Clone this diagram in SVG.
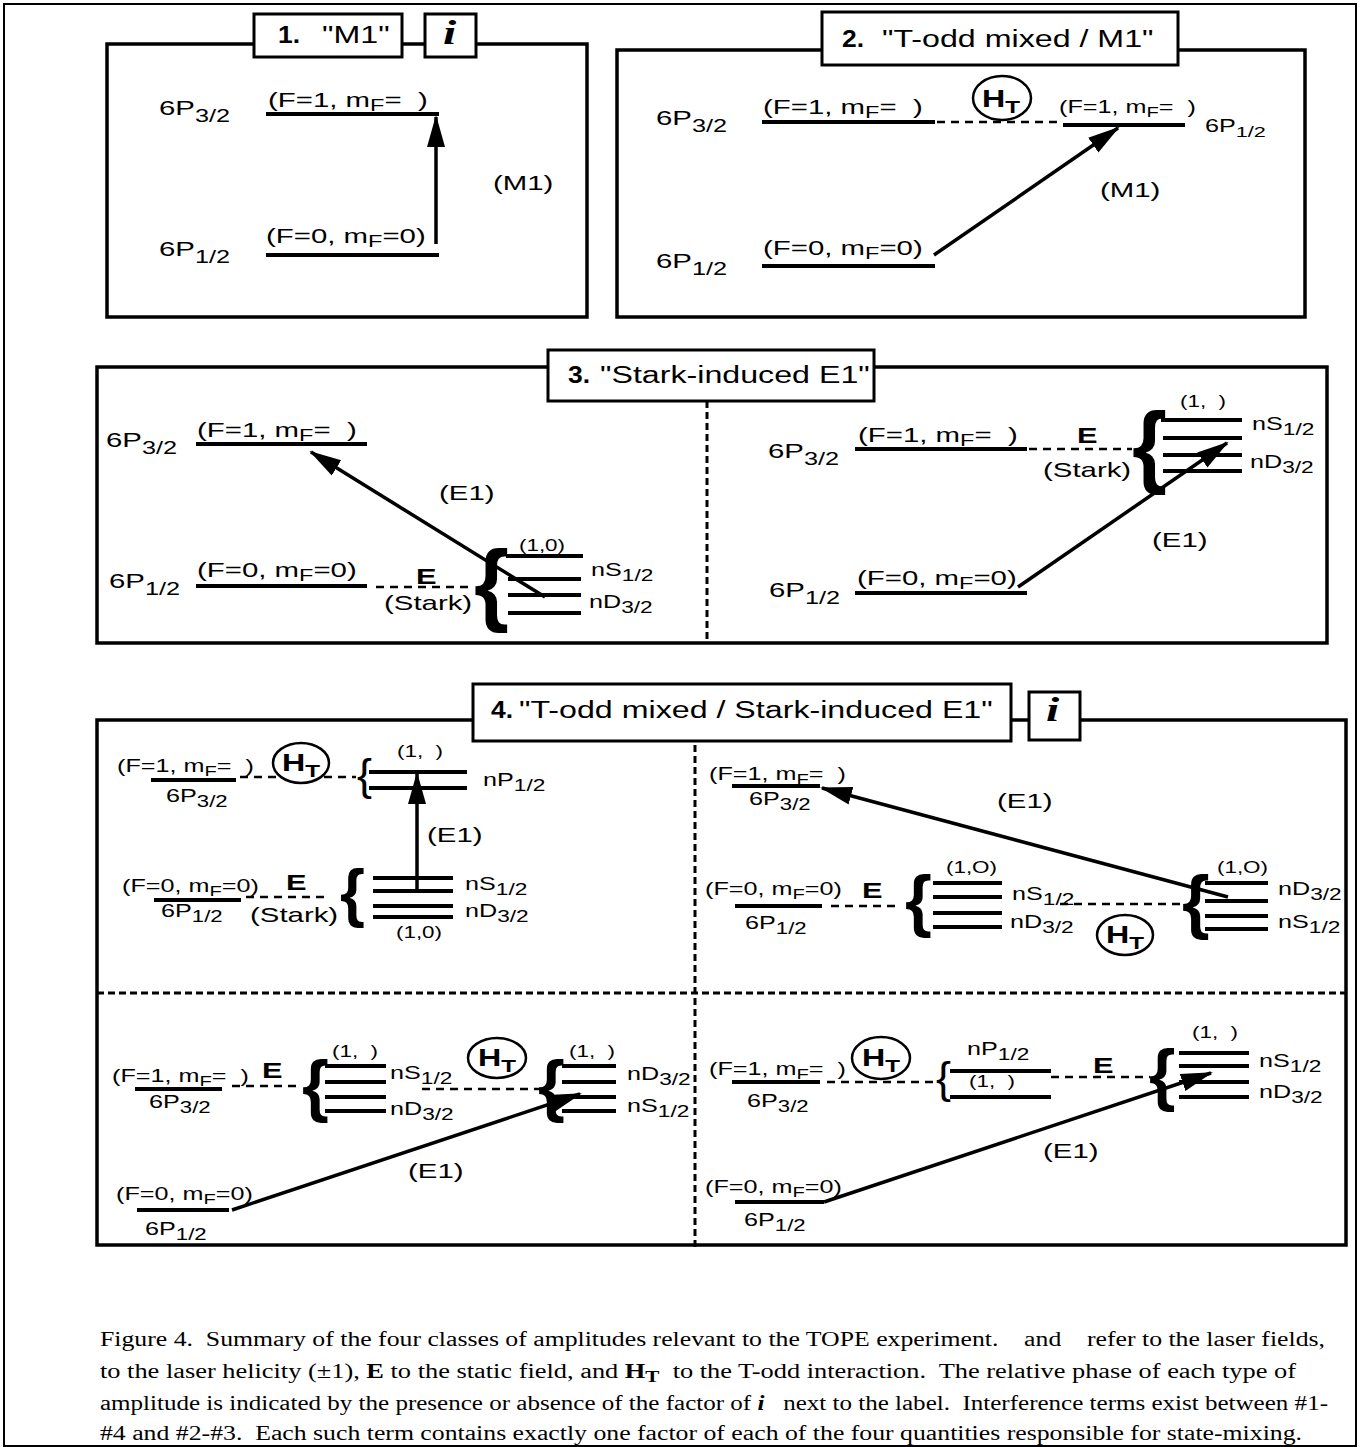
<svg xmlns="http://www.w3.org/2000/svg" width="1361" height="1447" viewBox="0 0 1361 1447">
<style>
.t{font-family:"Liberation Sans",Arial,Helvetica,sans-serif;fill:#000}
.L{font-size:21px}
.M{font-size:18px}
.S{font-size:16px}
.T{font-size:23px}
.bd{font-weight:bold}
.E{font-size:22px;font-weight:bold}
.H{font-size:23px;font-weight:bold}
.ii{font-family:"Liberation Serif","Times New Roman",serif;font-style:italic;font-weight:bold;font-size:34px}
.br{font-family:"Liberation Sans",Arial,sans-serif;font-weight:bold}
.brn{font-family:"Liberation Sans",Arial,sans-serif}
.lv{stroke:#000;stroke-width:4;fill:none}
.dl{stroke:#000;stroke-width:2.5;stroke-dasharray:8 6;fill:none}
.dv{stroke:#000;stroke-width:3;stroke-dasharray:7 4;fill:none}
.box{fill:none;stroke:#000;stroke-width:3.5}
.tb{fill:#fff;stroke:#000;stroke-width:3}
.ht{fill:#fff;stroke:#000;stroke-width:2.5}
.ar{stroke:#000;stroke-width:3.5;fill:none;marker-end:url(#ah)}
.cap{font-family:"Liberation Serif","Times New Roman",serif;font-size:20px;fill:#000}
</style>
<defs>
<marker id="ah" markerUnits="userSpaceOnUse" markerWidth="34" markerHeight="24" viewBox="0 -12 34 24" refX="30" refY="0" orient="auto"><path d="M0,-9 L32,0 L0,9 Z" fill="#000"/></marker>
</defs>
<rect x="4" y="4" width="1352" height="1442" fill="#fff" stroke="#000" stroke-width="2"/>

<!-- Section 1 -->
<g id="s1">
<rect class="box" x="107" y="44" width="480" height="273"/>
<rect class="tb" x="254" y="14" width="148" height="43"/>
<text class="t T bd" transform="translate(278,43) scale(1.15,1)">1.</text>
<text class="t T" transform="translate(322,43) scale(1.4,1)">"M1"</text>
<rect class="tb" x="425" y="14" width="51" height="43"/>
<text class="ii" transform="translate(443,44) scale(1.4,1)">i</text>
<line class="lv" x1="266" y1="114" x2="439" y2="114"/>
<line class="lv" x1="266" y1="255" x2="439" y2="255"/>
<text class="t L" transform="translate(159,115) scale(1.4,1)">6P<tspan font-size="86%" dy="7">3/2</tspan></text>
<text class="t L" transform="translate(268,107) scale(1.4,1)">(F=1, m<tspan font-size="80%" dy="4">F</tspan><tspan dy="-4">=&#160;&#160;)</tspan></text>
<text class="t L" transform="translate(266,243) scale(1.4,1)">(F=0, m<tspan font-size="80%" dy="4">F</tspan><tspan dy="-4">=0)</tspan></text>
<text class="t L" transform="translate(159,256) scale(1.4,1)">6P<tspan font-size="86%" dy="7">1/2</tspan></text>
<text class="t L" transform="translate(493,190) scale(1.4,1)">(M1)</text>
</g>

<!-- Section 2 -->
<g id="s2">
<rect class="box" x="617" y="50" width="688" height="267"/>
<rect class="tb" x="822" y="12" width="356" height="53"/>
<text class="t T bd" transform="translate(842,47) scale(1.15,1)">2.</text>
<text class="t T" transform="translate(882,47) scale(1.4,1)">"T-odd mixed / M1"</text>
<line class="lv" x1="762" y1="122" x2="935" y2="122"/>
<line class="lv" x1="1063" y1="125" x2="1185" y2="125"/>
<line class="lv" x1="762" y1="266" x2="935" y2="266"/>
<text class="t L" transform="translate(656,125) scale(1.4,1)">6P<tspan font-size="86%" dy="7">3/2</tspan></text>
<text class="t L" transform="translate(763,114) scale(1.4,1)">(F=1, m<tspan font-size="80%" dy="4">F</tspan><tspan dy="-4">=&#160;&#160;)</tspan></text>
<text class="t M" transform="translate(1059,113) scale(1.4,1)">(F=1, m<tspan font-size="80%" dy="4">F</tspan><tspan dy="-4">=&#160;&#160;)</tspan></text>
<text class="t M" transform="translate(1205,132) scale(1.4,1)">6P<tspan font-size="86%" dy="5">1/2</tspan></text>
<text class="t L" transform="translate(1100,197) scale(1.4,1)">(M1)</text>
<text class="t L" transform="translate(763,255) scale(1.4,1)">(F=0, m<tspan font-size="80%" dy="4">F</tspan><tspan dy="-4">=0)</tspan></text>
<text class="t L" transform="translate(656,268) scale(1.4,1)">6P<tspan font-size="86%" dy="7">1/2</tspan></text>
</g>

<!-- Section 3 -->
<g id="s3">
<rect class="box" x="97" y="367" width="1230" height="276"/>
<line class="dv" x1="707" y1="401" x2="707" y2="643"/>
<rect class="tb" x="548" y="350" width="326" height="51"/>
<text class="t T bd" transform="translate(568,383) scale(1.15,1)">3.</text>
<text class="t T" transform="translate(600,383) scale(1.4,1)">"Stark-induced E1"</text>
<!-- left -->
<line class="lv" x1="196" y1="444" x2="367" y2="444"/>
<line class="lv" x1="196" y1="586" x2="367" y2="586"/>
<text class="t L" transform="translate(106,447) scale(1.4,1)">6P<tspan font-size="86%" dy="7">3/2</tspan></text>
<text class="t L" transform="translate(197,437) scale(1.4,1)">(F=1, m<tspan font-size="80%" dy="4">F</tspan><tspan dy="-4">=&#160;&#160;)</tspan></text>
<text class="t L" transform="translate(439,500) scale(1.4,1)">(E1)</text>
<text class="t L" transform="translate(109,588) scale(1.4,1)">6P<tspan font-size="86%" dy="7">1/2</tspan></text>
<text class="t L" transform="translate(197,577) scale(1.4,1)">(F=0, m<tspan font-size="80%" dy="4">F</tspan><tspan dy="-4">=0)</tspan></text>
<text class="t E" transform="translate(416,584) scale(1.4,1)">E</text>
<text class="t L" transform="translate(384,610) scale(1.4,1)">(Stark)</text>
<text class="br" font-size="90" x="474" y="614">{</text>
<line class="lv" x1="506" y1="556" x2="583" y2="556"/>
<line class="lv" x1="508" y1="579" x2="581" y2="579"/>
<line class="lv" x1="508" y1="595" x2="581" y2="595"/>
<line class="lv" x1="508" y1="613" x2="581" y2="613"/>
<text class="t S" transform="translate(519,551) scale(1.4,1)">(1,0)</text>
<text class="t M" transform="translate(591,576) scale(1.4,1)">nS<tspan font-size="90%" dy="5">1/2</tspan></text>
<text class="t M" transform="translate(589,608) scale(1.4,1)">nD<tspan font-size="90%" dy="5">3/2</tspan></text>
<!-- right -->
<line class="lv" x1="855" y1="449" x2="1027" y2="449"/>
<line class="lv" x1="855" y1="593" x2="1027" y2="593"/>
<text class="t L" transform="translate(768,458) scale(1.4,1)">6P<tspan font-size="86%" dy="7">3/2</tspan></text>
<text class="t L" transform="translate(858,442) scale(1.4,1)">(F=1, m<tspan font-size="80%" dy="4">F</tspan><tspan dy="-4">=&#160;&#160;)</tspan></text>
<text class="t E" transform="translate(1077,443) scale(1.4,1)">E</text>
<text class="t L" transform="translate(1043,477) scale(1.4,1)">(Stark)</text>
<text class="br" font-size="90" x="1132" y="476">{</text>
<line class="lv" x1="1161" y1="420" x2="1242" y2="420"/>
<line class="lv" x1="1163" y1="438" x2="1242" y2="438"/>
<line class="lv" x1="1163" y1="455" x2="1242" y2="455"/>
<line class="lv" x1="1163" y1="471" x2="1242" y2="471"/>
<text class="t S" transform="translate(1180,407) scale(1.4,1)">(1,&#160;&#160;)</text>
<text class="t M" transform="translate(1252,430) scale(1.4,1)">nS<tspan font-size="90%" dy="5">1/2</tspan></text>
<text class="t M" transform="translate(1250,468) scale(1.4,1)">nD<tspan font-size="90%" dy="5">3/2</tspan></text>
<text class="t L" transform="translate(1152,547) scale(1.4,1)">(E1)</text>
<text class="t L" transform="translate(857,585) scale(1.4,1)">(F=0, m<tspan font-size="80%" dy="4">F</tspan><tspan dy="-4">=0)</tspan></text>
<text class="t L" transform="translate(769,597) scale(1.4,1)">6P<tspan font-size="86%" dy="7">1/2</tspan></text>
</g>

<!-- Section 4 -->
<g id="s4">
<rect class="box" x="97" y="720" width="1249" height="525"/>
<line class="dv" x1="695" y1="745" x2="695" y2="1250"/>
<line class="dv" x1="97" y1="993" x2="1346" y2="993" stroke-dasharray="10 7"/>
<rect class="tb" x="473" y="684" width="538" height="57"/>
<text class="t T bd" transform="translate(491,718) scale(1.15,1)">4.</text>
<text class="t T" transform="translate(519,718) scale(1.4,1)">"T-odd mixed / Stark-induced E1"</text>
<rect class="tb" x="1029" y="692" width="51" height="48"/>
<text class="ii" transform="translate(1046,721) scale(1.4,1)">i</text>
</g>

<!-- Section 4, top-left -->
<g id="s4-tl">
<line class="lv" x1="151" y1="780" x2="236" y2="780"/>
<text class="t M" transform="translate(117,772) scale(1.4,1)">(F=1, m<tspan font-size="80%" dy="4">F</tspan><tspan dy="-4">=&#160;&#160;)</tspan></text>
<text class="t M" transform="translate(166,802) scale(1.4,1)">6P<tspan font-size="88%" dy="5">3/2</tspan></text>
<text class="brn" font-size="45" x="357" y="790">{</text>
<line class="lv" x1="369" y1="772" x2="467" y2="772"/>
<line class="lv" x1="369" y1="788" x2="467" y2="788"/>
<text class="t S" transform="translate(397,757) scale(1.4,1)">(1,&#160;&#160;)</text>
<text class="t M" transform="translate(483,786) scale(1.4,1)">nP<tspan font-size="90%" dy="5">1/2</tspan></text>
<text class="t L" transform="translate(427,842) scale(1.4,1)">(E1)</text>
<line class="lv" x1="154" y1="900" x2="241" y2="900"/>
<text class="t M" transform="translate(122,892) scale(1.4,1)">(F=0, m<tspan font-size="80%" dy="4">F</tspan><tspan dy="-4">=0)</tspan></text>
<text class="t M" transform="translate(161,917) scale(1.4,1)">6P<tspan font-size="88%" dy="5">1/2</tspan></text>
<text class="t E" transform="translate(286,890) scale(1.4,1)">E</text>
<text class="t L" transform="translate(250,922) scale(1.4,1)">(Stark)</text>
<text class="br" font-size="64" x="340" y="915">{</text>
<line class="lv" x1="373" y1="878" x2="453" y2="878"/>
<line class="lv" x1="373" y1="891" x2="453" y2="891"/>
<line class="lv" x1="373" y1="906" x2="453" y2="906"/>
<line class="lv" x1="373" y1="917" x2="453" y2="917"/>
<text class="t M" transform="translate(465,890) scale(1.4,1)">nS<tspan font-size="90%" dy="5">1/2</tspan></text>
<text class="t M" transform="translate(465,917) scale(1.4,1)">nD<tspan font-size="90%" dy="5">3/2</tspan></text>
<text class="t S" transform="translate(396,938) scale(1.4,1)">(1,0)</text>
</g>

<!-- Section 4, top-right -->
<g id="s4-tr">
<line class="lv" x1="732" y1="786" x2="820" y2="786"/>
<text class="t M" transform="translate(709,780) scale(1.4,1)">(F=1, m<tspan font-size="80%" dy="4">F</tspan><tspan dy="-4">=&#160;&#160;)</tspan></text>
<text class="t M" transform="translate(749,805) scale(1.4,1)">6P<tspan font-size="88%" dy="5">3/2</tspan></text>
<text class="t L" transform="translate(997,808) scale(1.4,1)">(E1)</text>
<line class="lv" x1="735" y1="906" x2="822" y2="906"/>
<text class="t M" transform="translate(705,895) scale(1.4,1)">(F=0, m<tspan font-size="80%" dy="4">F</tspan><tspan dy="-4">=0)</tspan></text>
<text class="t M" transform="translate(745,929) scale(1.4,1)">6P<tspan font-size="88%" dy="5">1/2</tspan></text>
<text class="t E" transform="translate(862,898) scale(1.4,1)">E</text>
<text class="br" font-size="69" x="905" y="924">{</text>
<line class="lv" x1="933" y1="883" x2="1002" y2="883"/>
<line class="lv" x1="933" y1="897" x2="1002" y2="897"/>
<line class="lv" x1="933" y1="913" x2="1002" y2="913"/>
<line class="lv" x1="933" y1="927" x2="1002" y2="927"/>
<text class="t S" transform="translate(946,873) scale(1.4,1)">(1,O)</text>
<text class="t M" transform="translate(1012,900) scale(1.4,1)">nS<tspan font-size="90%" dy="5">1/2</tspan></text>
<text class="t M" transform="translate(1010,928) scale(1.4,1)">nD<tspan font-size="90%" dy="5">3/2</tspan></text>
<text class="br" font-size="71" x="1182" y="925">{</text>
<line class="lv" x1="1205" y1="883" x2="1268" y2="883"/>
<line class="lv" x1="1205" y1="901" x2="1268" y2="901"/>
<line class="lv" x1="1205" y1="916" x2="1268" y2="916"/>
<line class="lv" x1="1205" y1="929" x2="1268" y2="929"/>
<text class="t S" transform="translate(1217,873) scale(1.4,1)">(1,O)</text>
<text class="t M" transform="translate(1278,895) scale(1.4,1)">nD<tspan font-size="90%" dy="5">3/2</tspan></text>
<text class="t M" transform="translate(1278,928) scale(1.4,1)">nS<tspan font-size="90%" dy="5">1/2</tspan></text>
</g>

<!-- Section 4, bottom-left -->
<g id="s4-bl">
<line class="lv" x1="135" y1="1089" x2="222" y2="1089"/>
<text class="t M" transform="translate(112,1082) scale(1.4,1)">(F=1, m<tspan font-size="80%" dy="4">F</tspan><tspan dy="-4">=&#160;&#160;)</tspan></text>
<text class="t M" transform="translate(149,1108) scale(1.4,1)">6P<tspan font-size="88%" dy="5">3/2</tspan></text>
<text class="t E" transform="translate(262,1078) scale(1.4,1)">E</text>
<text class="br" font-size="69" x="302" y="1109">{</text>
<line class="lv" x1="325" y1="1066" x2="386" y2="1066"/>
<line class="lv" x1="325" y1="1082" x2="386" y2="1082"/>
<line class="lv" x1="325" y1="1097" x2="386" y2="1097"/>
<line class="lv" x1="325" y1="1111" x2="386" y2="1111"/>
<text class="t S" transform="translate(332,1057) scale(1.4,1)">(1,&#160;&#160;)</text>
<text class="t M" transform="translate(390,1079) scale(1.4,1)">nS<tspan font-size="90%" dy="5">1/2</tspan></text>
<text class="t M" transform="translate(390,1115) scale(1.4,1)">nD<tspan font-size="90%" dy="5">3/2</tspan></text>
<text class="br" font-size="69" x="538" y="1109">{</text>
<line class="lv" x1="562" y1="1066" x2="616" y2="1066"/>
<line class="lv" x1="562" y1="1082" x2="616" y2="1082"/>
<line class="lv" x1="562" y1="1097" x2="616" y2="1097"/>
<line class="lv" x1="562" y1="1111" x2="616" y2="1111"/>
<text class="t S" transform="translate(569,1057) scale(1.4,1)">(1,&#160;&#160;)</text>
<text class="t M" transform="translate(627,1080) scale(1.4,1)">nD<tspan font-size="90%" dy="5">3/2</tspan></text>
<text class="t M" transform="translate(627,1112) scale(1.4,1)">nS<tspan font-size="90%" dy="5">1/2</tspan></text>
<text class="t L" transform="translate(408,1178) scale(1.4,1)">(E1)</text>
<line class="lv" x1="137" y1="1210" x2="229" y2="1210"/>
<text class="t M" transform="translate(116,1200) scale(1.4,1)">(F=0, m<tspan font-size="80%" dy="4">F</tspan><tspan dy="-4">=0)</tspan></text>
<text class="t M" transform="translate(145,1235) scale(1.4,1)">6P<tspan font-size="88%" dy="5">1/2</tspan></text>
</g>

<!-- Section 4, bottom-right -->
<g id="s4-br">
<line class="lv" x1="732" y1="1082" x2="820" y2="1082"/>
<text class="t M" transform="translate(709,1075) scale(1.4,1)">(F=1, m<tspan font-size="80%" dy="4">F</tspan><tspan dy="-4">=&#160;&#160;)</tspan></text>
<text class="t M" transform="translate(747,1107) scale(1.4,1)">6P<tspan font-size="88%" dy="5">3/2</tspan></text>
<text class="brn" font-size="45" x="936" y="1093">{</text>
<line class="lv" x1="950" y1="1071" x2="1051" y2="1071"/>
<line class="lv" x1="950" y1="1097" x2="1051" y2="1097"/>
<text class="t M" transform="translate(967,1055) scale(1.4,1)">nP<tspan font-size="90%" dy="5">1/2</tspan></text>
<text class="t S" font-size="15" transform="translate(969,1087) scale(1.4,1)">(1,&#160;&#160;)</text>
<text class="t E" transform="translate(1093,1073) scale(1.4,1)">E</text>
<text class="br" font-size="68" x="1149" y="1098">{</text>
<line class="lv" x1="1179" y1="1053" x2="1249" y2="1053"/>
<line class="lv" x1="1179" y1="1066" x2="1249" y2="1066"/>
<line class="lv" x1="1179" y1="1082" x2="1249" y2="1082"/>
<line class="lv" x1="1179" y1="1097" x2="1249" y2="1097"/>
<text class="t S" transform="translate(1192,1038) scale(1.4,1)">(1,&#160;&#160;)</text>
<text class="t M" transform="translate(1259,1067) scale(1.4,1)">nS<tspan font-size="90%" dy="5">1/2</tspan></text>
<text class="t M" transform="translate(1259,1098) scale(1.4,1)">nD<tspan font-size="90%" dy="5">3/2</tspan></text>
<text class="t L" transform="translate(1043,1158) scale(1.4,1)">(E1)</text>
<line class="lv" x1="735" y1="1202" x2="824" y2="1202"/>
<text class="t M" transform="translate(705,1193) scale(1.4,1)">(F=0, m<tspan font-size="80%" dy="4">F</tspan><tspan dy="-4">=0)</tspan></text>
<text class="t M" transform="translate(744,1226) scale(1.4,1)">6P<tspan font-size="88%" dy="5">1/2</tspan></text>
</g>

<!-- Connectors: transitions and mixings -->
<g id="connectors">
<line class="ar" x1="436" y1="244" x2="436" y2="117"/>
<line class="dl" x1="937" y1="122" x2="1061" y2="122"/>
<line class="ar" x1="934" y1="255" x2="1118" y2="128"/>
<line class="ar" x1="545" y1="597" x2="311" y2="452"/>
<line class="dl" x1="376" y1="587" x2="474" y2="587"/>
<line class="dl" x1="1029" y1="449" x2="1132" y2="449"/>
<line class="ar" x1="1018" y1="587" x2="1227" y2="443"/>
<line class="dl" x1="240" y1="777" x2="356" y2="777"/>
<line class="ar" x1="417" y1="893" x2="417" y2="774"/>
<line class="dl" x1="246" y1="897" x2="324" y2="897"/>
<line class="ar" x1="1228" y1="897" x2="822" y2="788"/>
<line class="dl" x1="831" y1="906" x2="897" y2="906"/>
<line class="dl" x1="1060" y1="904" x2="1183" y2="904"/>
<line class="dl" x1="232" y1="1086" x2="300" y2="1086"/>
<line class="dl" x1="422" y1="1089" x2="540" y2="1089"/>
<line class="ar" x1="232" y1="1210" x2="580" y2="1094"/>
<line class="dl" x1="827" y1="1082" x2="936" y2="1082"/>
<line class="dl" x1="1051" y1="1077" x2="1150" y2="1077"/>
<line class="ar" x1="824" y1="1202" x2="1211" y2="1073"/>
</g>

<!-- H_T markers -->
<g id="ht2"><ellipse class="ht" cx="1002" cy="98" rx="29" ry="22"/><text class="t H" transform="translate(982,107) scale(1.4,1)">H<tspan font-size="75%" dy="6">T</tspan></text></g>
<g id="ht4a"><ellipse class="ht" cx="301" cy="763" rx="28" ry="20"/><text class="t H" font-size="22" transform="translate(282,771) scale(1.4,1)">H<tspan font-size="75%" dy="6">T</tspan></text></g>
<g id="ht4b"><ellipse class="ht" cx="1125" cy="935" rx="28" ry="20"/><text class="t H" font-size="22" transform="translate(1106,943) scale(1.4,1)">H<tspan font-size="75%" dy="6">T</tspan></text></g>
<g id="ht4c"><ellipse class="ht" cx="497" cy="1058" rx="29" ry="20"/><text class="t H" font-size="22" transform="translate(478,1066) scale(1.4,1)">H<tspan font-size="75%" dy="6">T</tspan></text></g>
<g id="ht4d"><ellipse class="ht" cx="881" cy="1058" rx="29" ry="21"/><text class="t H" font-size="22" transform="translate(862,1066) scale(1.4,1)">H<tspan font-size="75%" dy="6">T</tspan></text></g>

<!-- Caption -->
<g id="caption">
<text class="cap" x="100" y="1346" xml:space="preserve" textLength="1225" lengthAdjust="spacingAndGlyphs">Figure 4.  Summary of the four classes of amplitudes relevant to the TOPE experiment.    and    refer to the laser fields,</text>
<text class="cap" x="100" y="1378" xml:space="preserve" textLength="1196" lengthAdjust="spacingAndGlyphs">to the laser helicity (±1), <tspan font-weight="bold">E</tspan> to the static field, and <tspan font-weight="bold">H</tspan><tspan font-weight="bold" font-size="16" dy="4">T</tspan><tspan dy="-4">  to the T-odd interaction.  The relative phase of each type of</tspan></text>
<text class="cap" x="100" y="1410" xml:space="preserve" textLength="1228" lengthAdjust="spacingAndGlyphs">amplitude is indicated by the presence or absence of the factor of <tspan font-weight="bold" font-style="italic">i</tspan>   next to the label.  Interference terms exist between #1-</text>
<text class="cap" x="100" y="1440" xml:space="preserve" textLength="1202" lengthAdjust="spacingAndGlyphs">#4 and #2-#3.  Each such term contains exactly one factor of each of the four quantities responsible for state-mixing.</text>
</g>
</svg>
